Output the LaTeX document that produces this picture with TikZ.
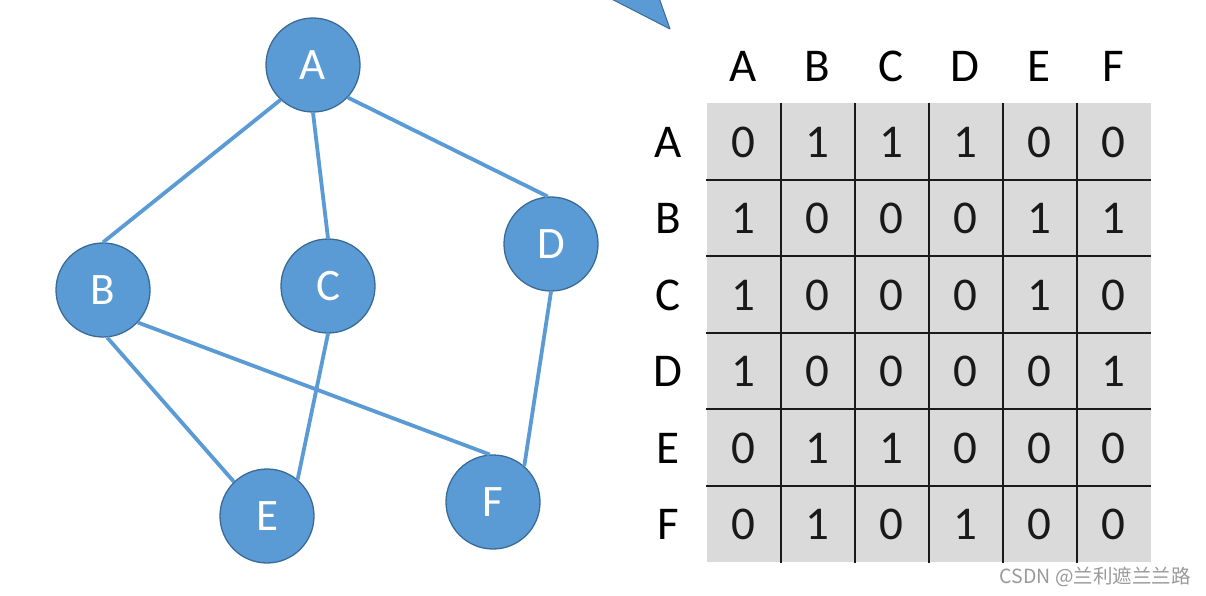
\documentclass[tikz,border=0pt]{standalone}
\usepackage{fontspec}
\setmainfont{Carlito}
\newfontfamily\cjkfont{Noto Sans CJK SC}
\definecolor{vblue}{HTML}{5B9BD5}
\definecolor{vborder}{HTML}{3A6A96}
\definecolor{cellgray}{HTML}{DADADA}
\definecolor{gridline}{HTML}{1A1A1A}
\definecolor{wmark}{HTML}{9A9A9A}
\begin{document}
\begin{tikzpicture}[x=1pt,y=-1pt,
  vertex/.style={circle,fill=vblue,draw=vborder,line width=1.3pt,minimum size=94pt,inner sep=0pt,
    text=white,font=\fontsize{45}{45}\selectfont},
  edge/.style={draw=vblue,line width=3.8pt},
  hdr/.style={font=\fontsize{47}{47}\selectfont,text=black,inner sep=0pt},
  cell/.style={font=\fontsize{47}{47}\selectfont,text=black!90,inner sep=0pt},
  grid/.style={draw=gridline,line width=2pt}]
\useasboundingbox (0,0) rectangle (1206,595);
\fill[white] (0,0) rectangle (1206,595);
% partial pointer triangle at top
\begin{scope}
\clip (0,0) rectangle (1206,595);
\filldraw[fill=vblue,draw=vborder,line width=1pt,line join=round] (598,-8) -- (657,-8) -- (670,29) -- cycle;
\end{scope}
% graph
\node[vertex] (A) at (313,65) {A};
\node[vertex] (B) at (103,290) {B};
\node[vertex] (C) at (328,286) {C};
\node[vertex] (D) at (551,244) {D};
\node[vertex] (E) at (267,516) {E};
\node[vertex] (F) at (493,502) {F};
\draw[edge] (A.227) -- (B.90);
\draw[edge] (A.270) -- (C.90);
\draw[edge] (A.317) -- (D.94);
\draw[edge] (B.275) -- (E.134);
\draw[edge] (B.317) -- (F.94);
\draw[edge] (C.270) -- (E.50);
\draw[edge] (D.270) -- (F.49);
% matrix
\fill[cellgray] (707,103) rectangle (1151,562);
\foreach \k in {1,...,5} {
  \draw[grid] ({707+74*\k},103) -- ({707+74*\k},563);
  \draw[grid] (706,{103+76.5*\k}) -- (1151,{103+76.5*\k});
}
\foreach \l [count=\i from 0] in {A,B,C,D,E,F} {
  \node[hdr] (col\l) at ({743+74*\i},66) {\l};
  \node[hdr] (row\l) at (668,{142+76.5*\i}) {\l};
}
\foreach \r/\vals in {A/{0,1,1,1,0,0},B/{1,0,0,0,1,1},C/{1,0,0,0,1,0},D/{1,0,0,0,0,1},E/{0,1,1,0,0,0},F/{0,1,0,1,0,0}} {
  \foreach \v [count=\j from 0] in \vals {
    \node[cell] (m\r\j) at ({743+74*\j},{0}|-row\r) {\v};
  }
}
% watermark
\node[anchor=east,inner sep=0pt,text=wmark,font=\cjkfont\fontsize{19.5}{19.5}\selectfont] (wm) at (1191,577) {CSDN @兰利遮兰兰路};
\end{tikzpicture}
\end{document}
